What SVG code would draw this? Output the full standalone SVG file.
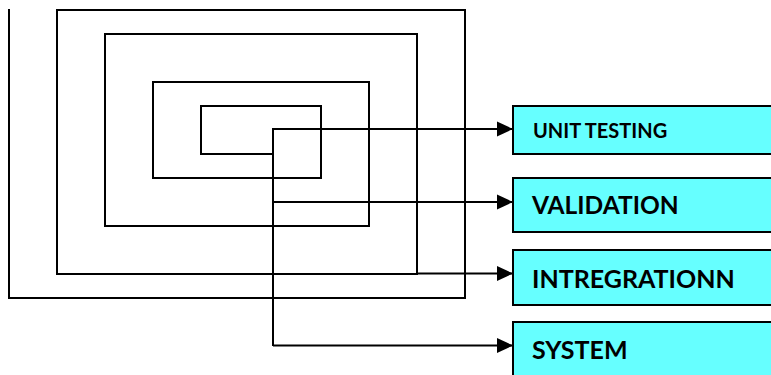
<svg xmlns="http://www.w3.org/2000/svg" width="771" height="375" viewBox="0 0 771 375">
  <style>
    .ln { fill: none; stroke: #000; stroke-width: 2; }
    .box { fill: #66ffff; stroke: #000; stroke-width: 2; }
    .lbl { font-family: Lato, "Liberation Sans", sans-serif; font-weight: bold; fill: #000; }
  </style>
  <defs>
    <marker id="arr" viewBox="0 0 16 16" refX="16" refY="8" markerWidth="16" markerHeight="16" markerUnits="userSpaceOnUse" orient="auto">
      <path d="M0,0.5 L16,8 L0,15.5 Z" fill="#000"/>
    </marker>
  </defs>
  <rect width="771" height="375" fill="#fff"/>
  <g id="spiral">
    <path class="ln" d="M9,9 V298 H465 V10 H57 V274 H417 V34 H105 V226 H369 V82 H153 V178 H321 V106 H201 V154 H273"/>
  </g>
  <g id="unit-testing">
    <rect class="box" x="513" y="106" width="270" height="48"/>
    <text class="lbl" x="533" y="138" font-size="20">UNIT TESTING</text>
  </g>
  <g id="validation">
    <rect class="box" x="513" y="178" width="270" height="54"/>
    <text class="lbl" x="532" y="214" font-size="24.5">VALIDATION</text>
  </g>
  <g id="intregrationn">
    <rect class="box" x="513" y="250" width="270" height="55"/>
    <text class="lbl" x="532" y="288" font-size="25">INTREGRATIONN</text>
  </g>
  <g id="system">
    <rect class="box" x="513" y="322" width="270" height="60"/>
    <text class="lbl" x="532" y="359" font-size="25">SYSTEM</text>
  </g>
  <g id="connectors">
    <path class="ln" d="M273,346 V129 H513" marker-end="url(#arr)"/>
    <path class="ln" d="M273,202 H513" marker-end="url(#arr)"/>
    <path class="ln" d="M417,273.5 H513" marker-end="url(#arr)"/>
    <path class="ln" d="M273,345.5 H513" marker-end="url(#arr)"/>
  </g>
</svg>
